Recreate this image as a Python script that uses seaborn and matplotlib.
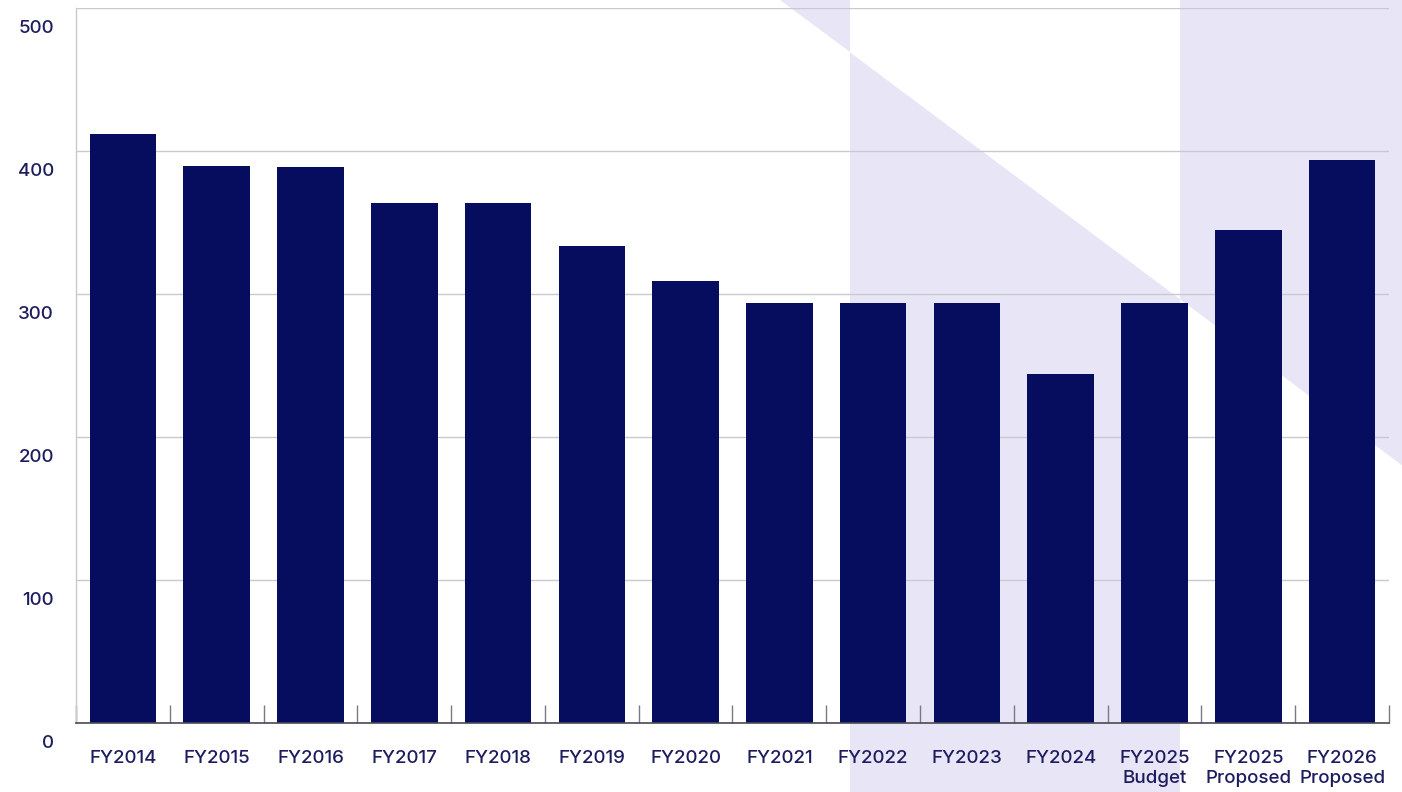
import matplotlib
matplotlib.use("Agg")
import matplotlib.pyplot as plt
from matplotlib.patches import Polygon
from matplotlib.transforms import ScaledTranslation
from matplotlib.ticker import FixedLocator
import seaborn as sns

# Fiscal-year values
categories = ["FY2014", "FY2015", "FY2016", "FY2017", "FY2018", "FY2019", "FY2020",
              "FY2021", "FY2022", "FY2023", "FY2024", "FY2025\nBudget",
              "FY2025\nProposed", "FY2026\nProposed"]
values = [412, 390, 389, 364, 364, 334, 309, 294, 294, 294, 244, 294, 345, 394]
y_ticks = [0, 100, 200, 300, 400, 500]

NAVY = "#060D5F"
TEXT = "#1C1C5E"
LAVENDER = "#E8E6F6"
GRID = "#C9C9CF"

sns.set_theme(style="white")
plt.rcParams["font.family"] = ["Inter", "DejaVu Sans"]

W, H = 1402, 792
fig = plt.figure(figsize=(W / 100, H / 100), dpi=100)
fig.patch.set_facecolor("white")

# Decorative background shapes (pixel space of the whole figure)
bg = fig.add_axes([0, 0, 1, 1], zorder=0)
bg.set_xlim(0, W)
bg.set_ylim(H, 0)
bg.axis("off")


def diag(x):
    return (x - 780) * 0.748


shapes = [
    [(780, 0), (850, 0), (850, diag(850))],
    [(850, diag(850)), (1180, diag(1180)), (1180, H), (850, H)],
    [(1180, 0), (W, 0), (W, diag(W)), (1180, diag(1180))],
]
for pts in shapes:
    bg.add_patch(Polygon(pts, closed=True, facecolor=LAVENDER, edgecolor="none"))

# Main chart
ax = fig.add_axes([76 / W, 1 - 723.3 / H, (1389 - 76) / W, (723.3 - 8.3) / H], zorder=1)
ax.set_facecolor("none")

sns.barplot(x=categories, y=values, color=NAVY, saturation=1, width=0.71,
            edgecolor="none", ax=ax, zorder=3)

ax.set_xlim(-0.5, len(categories) - 0.5)
ax.set_ylim(0, 500)
ax.set_yticks(y_ticks)
ax.set_yticklabels([str(v) for v in y_ticks])
ax.set_xlabel("")
ax.set_ylabel("")

ax.grid(axis="y", color=GRID, linewidth=1, zorder=0)
ax.grid(axis="x", visible=False)
ax.set_axisbelow(True)

for side in ["top", "right"]:
    ax.spines[side].set_visible(False)
ax.spines["left"].set_color(GRID)
ax.spines["left"].set_linewidth(1)
ax.spines["bottom"].set_color("#4A4A55")
ax.spines["bottom"].set_linewidth(1.2)
ax.spines["bottom"].set_zorder(4)

# Category labels at bar centres, short marks between categories
ax.tick_params(axis="x", which="major", length=0, pad=19, labelsize=13.5, labelcolor=TEXT)
ax.xaxis.set_minor_locator(FixedLocator([i - 0.5 for i in range(len(categories) + 1)]))
ax.tick_params(axis="x", which="minor", direction="in", length=13, width=1,
               color="#7A7A84", bottom=True)
ax.tick_params(axis="y", length=0, pad=16, labelsize=13.5, labelcolor=TEXT)

for lab in ax.get_xticklabels():
    lab.set_fontweight("medium")
    lab.set_linespacing(1.25)
for lab in ax.get_yticklabels():
    lab.set_fontweight("medium")
    lab.set_transform(lab.get_transform() + ScaledTranslation(0, -0.18, fig.dpi_scale_trans))

fig.savefig("out.png", dpi=100, facecolor="white")
